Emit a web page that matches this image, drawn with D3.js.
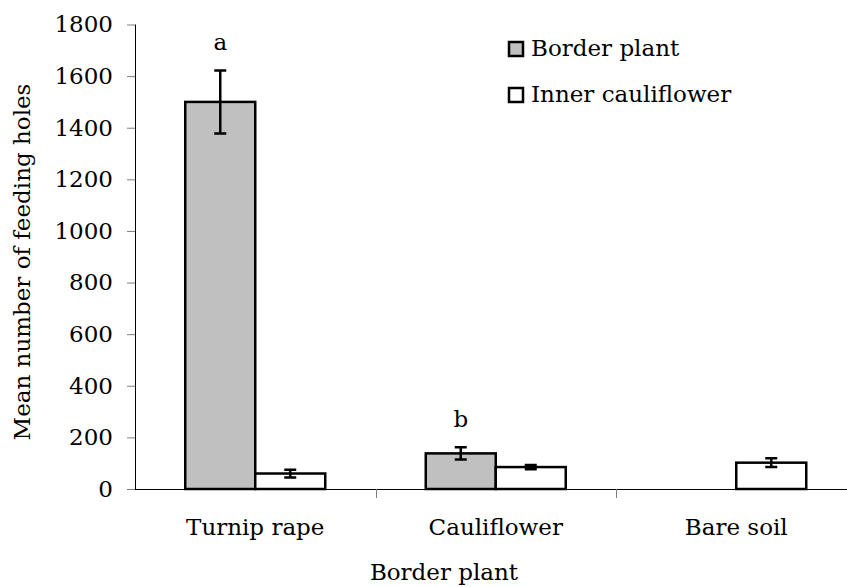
<!DOCTYPE html>
<html>
<head>
<meta charset="utf-8">
<script src="https://cdn.jsdelivr.net/npm/d3@7"></script>
<style>
  html, body { margin: 0; padding: 0; background: #fff; }
</style>
</head>
<body>
<script>
// Data
const categories = ['Turnip rape', 'Cauliflower', 'Bare soil'];
const series = ['Border plant', 'Inner cauliflower'];
const borderMeans = [1500, 138, 0];
const borderErrors = [122, 24, 0];
const innerMeans = [60, 85, 102];
const innerErrors = [15, 8, 17];
const letters = ['a', 'b', ''];
const yTicks = [0, 200, 400, 600, 800, 1000, 1200, 1400, 1600, 1800];

const width = 847;
const height = 587;
const margin = { top: 24.5, right: -9.5, bottom: 98, left: 135 };
const fills = ['#c0c0c0', '#ffffff'];
const font = "DejaVu Serif, Liberation Serif, serif";
const fs = 23;

const rows = [];
categories.forEach((c, i) => {
  rows.push({ cat: c, s: series[0], v: borderMeans[i], e: borderErrors[i], k: 0 });
  rows.push({ cat: c, s: series[1], v: innerMeans[i], e: innerErrors[i], k: 1 });
});

const x0 = d3.scaleBand()
  .domain(categories)
  .range([margin.left, width - margin.right])
  .padding(0);

const x1 = d3.scaleBand()
  .domain(series)
  .range([0, x0.bandwidth()])
  .paddingInner(0)
  .paddingOuter(0.718);

const y = d3.scaleLinear()
  .domain([0, 1800])
  .range([height - margin.bottom, margin.top]);

const svg = d3.select('body')
  .append('svg')
  .attr('width', width)
  .attr('height', height)
  .attr('font-family', font)
  .style('display', 'block');

svg.append('rect').attr('width', width).attr('height', height).attr('fill', '#fff');

// y axis
svg.append('g')
  .attr('transform', `translate(${margin.left},0)`)
  .call(d3.axisLeft(y).tickValues(yTicks).tickSize(8).tickPadding(14).tickFormat(d3.format('d')))
  .attr('font-family', font)
  .attr('font-size', fs)
  .call(g => g.select('.domain').attr('stroke', '#000').attr('d', `M0.5,${y(1800)}V${y(0)}`))
  .call(g => g.selectAll('.tick line').attr('stroke', '#7f7f7f'))
  .call(g => g.selectAll('.tick text').attr('fill', '#000'));

// x axis
const xAxis = svg.append('g')
  .attr('transform', `translate(0,${y(0)})`);
xAxis.append('line')
  .attr('x1', margin.left).attr('x2', width)
  .attr('y1', 0.5).attr('y2', 0.5)
  .attr('stroke', '#000');
xAxis.selectAll('line.tick')
  .data(categories.slice(1))
  .join('line')
  .attr('class', 'tick')
  .attr('x1', d => Math.round(x0(d)) + 0.5)
  .attr('x2', d => Math.round(x0(d)) + 0.5)
  .attr('y1', 0).attr('y2', 9)
  .attr('stroke', '#7f7f7f');

svg.append('g')
  .attr('font-size', fs)
  .attr('text-anchor', 'middle')
  .selectAll('text')
  .data(categories)
  .join('text')
  .attr('x', d => x0(d) + x0.bandwidth() / 2)
  .attr('y', y(0) + 46)
  .text(d => d);

// bars
const bars = svg.append('g');
bars.selectAll('rect')
  .data(rows.filter(d => d.v > 0))
  .join('rect')
  .attr('x', d => x0(d.cat) + x1(d.s))
  .attr('y', d => y(d.v))
  .attr('width', x1.bandwidth())
  .attr('height', d => y(0) - y(d.v))
  .attr('fill', d => fills[d.k])
  .attr('stroke', '#000')
  .attr('stroke-width', 2.5);

// error bars
const cap = 6;
const err = svg.append('g')
  .attr('stroke', '#000')
  .attr('stroke-width', 2.5)
  .attr('fill', 'none');
err.selectAll('path')
  .data(rows.filter(d => d.v > 0))
  .join('path')
  .attr('d', d => {
    const cx = x0(d.cat) + x1(d.s) + x1.bandwidth() / 2;
    const t = y(d.v + d.e), b = y(d.v - d.e);
    return `M${cx - cap},${t}H${cx + cap}M${cx},${t}V${b}M${cx - cap},${b}H${cx + cap}`;
  });

// significance letters
svg.append('g')
  .attr('font-size', fs)
  .attr('text-anchor', 'middle')
  .selectAll('text')
  .data(categories.map((c, i) => ({ cat: c, l: letters[i], top: borderMeans[i] + borderErrors[i] })).filter(d => d.l))
  .join('text')
  .attr('x', d => x0(d.cat) + x1(series[0]) + x1.bandwidth() / 2)
  .attr('y', d => y(d.top) - 20)
  .text(d => d.l);

// legend
const legend = svg.append('g')
  .attr('transform', 'translate(508,41)');
const li = legend.selectAll('g')
  .data(series)
  .join('g')
  .attr('transform', (d, i) => `translate(0,${i * 46})`);
li.append('rect')
  .attr('x', 1).attr('y', 1)
  .attr('width', 14).attr('height', 14)
  .attr('fill', (d, i) => fills[i])
  .attr('stroke', '#000')
  .attr('stroke-width', 2.5);
li.append('text')
  .attr('x', 23)
  .attr('y', 15)
  .attr('font-size', fs)
  .text(d => d);

// axis titles
svg.append('text')
  .attr('x', 444)
  .attr('y', 580)
  .attr('font-size', fs)
  .attr('text-anchor', 'middle')
  .text('Border plant');

svg.append('text')
  .attr('transform', `translate(30,${262}) rotate(-90)`)
  .attr('font-size', fs)
  .attr('text-anchor', 'middle')
  .text('Mean number of feeding holes');
</script>
</body>
</html>
